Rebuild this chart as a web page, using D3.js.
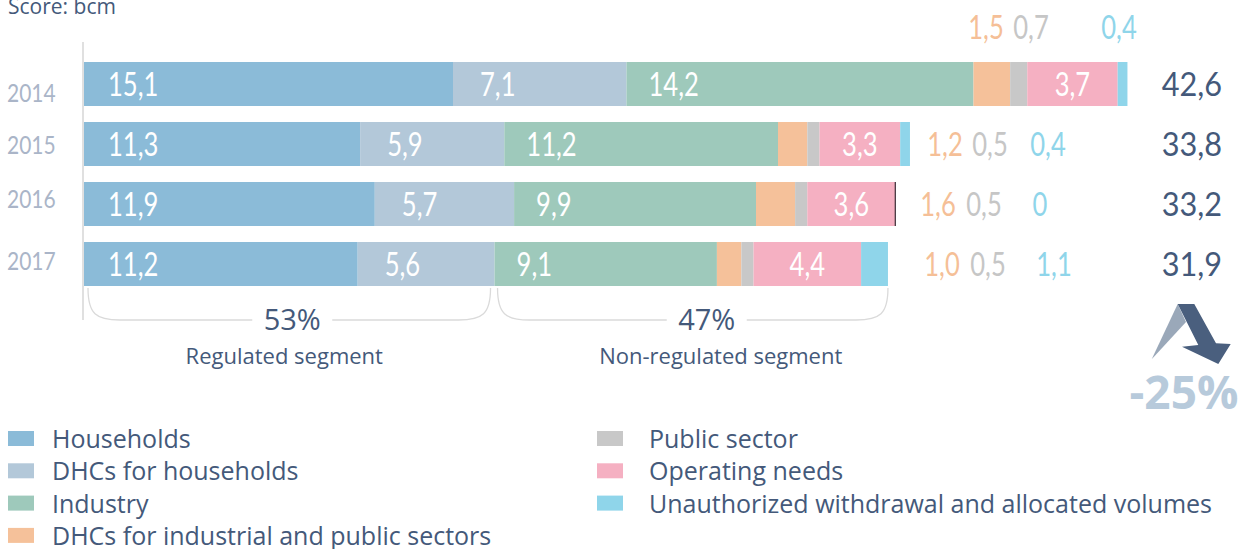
<!DOCTYPE html>
<html>
<head>
<meta charset="utf-8">
<script src="https://cdn.jsdelivr.net/npm/d3@7"></script>
<style>
  body { margin: 0; background: #fff; }
  svg { display: block; }
</style>
</head>
<body>
<div id="chart"></div>
<script>
// data, bcm
var years = ["2014", "2015", "2016", "2017"];
var keys = ["households", "dhcHouseholds", "industry", "dhcIndustrial", "publicSector", "operating", "unauthorized"];
var legendNames = ["Households", "DHCs for households", "Industry", "DHCs for industrial and public sectors",
                   "Public sector", "Operating needs", "Unauthorized withdrawal and allocated volumes"];
var colors = ["#8bbbd8", "#b3c8d9", "#9ec9bb", "#f5c19a", "#c8c8c8", "#f5b0c2", "#8fd5ea"];

var households    = [15.1, 11.3, 11.9, 11.2];
var dhcHouseholds = [7.1, 5.9, 5.7, 5.6];
var industry      = [14.2, 11.2, 9.9, 9.1];
var dhcIndustrial = [1.5, 1.2, 1.6, 1.0];
var publicSector  = [0.7, 0.5, 0.5, 0.5];
var operating     = [3.7, 3.3, 3.6, 4.4];
var unauthorized  = [0.4, 0.4, 0, 1.1];
var totals        = ["42,6", "33,8", "33,2", "31,9"];

var segments = [{label: "Regulated segment", share: "53%"},
                {label: "Non-regulated segment", share: "47%"}];
var change = "-25%";

var rows = years.map(function (y, i) {
    return {year: y, households: households[i], dhcHouseholds: dhcHouseholds[i], industry: industry[i],
            dhcIndustrial: dhcIndustrial[i], publicSector: publicSector[i], operating: operating[i],
            unauthorized: unauthorized[i], total: totals[i]};
});

var fmt = function (v) { return v === 0 ? "0" : v.toFixed(1).replace(".", ","); };

var navy = "#44597a";
var numFont = "Lato, 'DejaVu Sans Condensed', sans-serif";
var textFont = "'Open Sans', 'Noto Sans', sans-serif";

var svg = d3.select("#chart").append("svg")
    .attr("width", 1257)
    .attr("height", 549);

var x = d3.scaleLinear().domain([0, 42.6]).range([84, 1125]);
var y = d3.scaleBand().domain(years).range([54, 294]).paddingInner(16 / 60).paddingOuter(8 / 60);

var stack = d3.stack().keys(keys)(rows);

function numText(sel, size, color, weight) {
    return sel.style("font-family", numFont).style("font-weight", weight || 400)
        .style("font-size", size + "px").style("fill", color);
}

// the original numbers use a narrow face, so squeeze Lato a bit
function squeeze(sel, k) {
    sel.each(function () {
        var t = d3.select(this);
        var xx = +t.attr("x"), yy = +t.attr("y");
        t.attr("x", 0).attr("y", 0)
            .attr("transform", "translate(" + xx + "," + yy + ") scale(" + k + ",1)");
    });
    return sel;
}

// title
svg.append("text")
    .attr("x", 8).attr("y", 14)
    .style("font-family", textFont).style("font-size", "21px").style("fill", navy)
    .text("Score: bcm");

// axis line
svg.append("line")
    .attr("x1", 83).attr("x2", 83).attr("y1", 42).attr("y2", 320)
    .style("stroke", "#d6d6d6").style("stroke-width", 1.5);

// bars
var layers = svg.selectAll("g.layer")
    .data(stack)
    .enter()
    .append("g")
    .attr("class", "layer")
    .style("fill", function (d, i) { return colors[i]; });

layers.selectAll("rect")
    .data(function (d) { return d; })
    .enter()
    .append("rect")
    .attr("x", function (d) { return x(d[0]); })
    .attr("y", function (d) { return y(d.data.year); })
    .attr("width", function (d) { return x(d[1]) - x(d[0]); })
    .attr("height", y.bandwidth());

// zero-width unauthorized (2016) shows as a thin dark edge
stack[6].forEach(function (d) {
    if (d[1] - d[0] === 0) {
        svg.append("line")
            .attr("x1", x(d[0])).attr("x2", x(d[0]))
            .attr("y1", y(d.data.year)).attr("y2", y(d.data.year) + y.bandwidth())
            .style("stroke", "#3a2b35").style("stroke-width", 1.2);
    }
});

// labels inside bars
var insideOffset = {households: 24, dhcHouseholds: 27, industry: 22};
stack.forEach(function (layer) {
    var key = layer.key;
    if (insideOffset[key] === undefined && key !== "operating") return;
    var t = numText(svg.selectAll(null)
        .data(layer)
        .enter()
        .append("text")
        .attr("x", function (d) {
            if (key === "operating") return (x(d[0]) + x(d[1])) / 2;
            return x(d[0]) + insideOffset[key];
        })
        .attr("y", function (d) { return y(d.data.year) + y.bandwidth() / 2; })
        .attr("dy", "0.36em")
        .attr("text-anchor", key === "operating" ? "middle" : "start"), 32, "#fff")
        .text(function (d) { return fmt(d[1] - d[0]); });
    squeeze(t, 0.8);
});

// small values outside the bars
var outKeys = ["dhcIndustrial", "publicSector", "unauthorized"];
var outColors = ["#f5bf97", "#c6c6c6", "#8fd5ea"];
// label centres per row: 2014 sits above its bar, the others right of the bar
var outPos = [[986, 1031, 1119], [945, 990, 1048], [938, 984, 1040], [942, 988, 1054]];
rows.forEach(function (r, i) {
    outKeys.forEach(function (k, j) {
        var t = numText(svg.append("text")
            .attr("x", outPos[i][j])
            .attr("y", i === 0 ? 27 : y(r.year) + y.bandwidth() / 2)
            .attr("dy", "0.36em")
            .attr("text-anchor", "middle"), 32, outColors[j])
            .text(fmt(r[k]));
        squeeze(t, 0.8);
    });
});

// year labels
var yearShift = [9, 1, -5, -3];
var yl = numText(svg.selectAll("text.year")
    .data(years)
    .enter()
    .append("text")
    .attr("class", "year")
    .attr("x", 7)
    .attr("y", function (d, i) { return y(d) + y.bandwidth() / 2 + yearShift[i]; })
    .attr("dy", "0.36em"), 25, "#aab5c8")
    .text(function (d) { return d; });
squeeze(yl, 0.84);

// totals
var tl = numText(svg.selectAll("text.total")
    .data(rows)
    .enter()
    .append("text")
    .attr("class", "total")
    .attr("x", 1222)
    .attr("y", function (d) { return y(d.year) + y.bandwidth() / 2; })
    .attr("dy", "0.36em")
    .attr("text-anchor", "end"), 33, navy)
    .text(function (d) { return d.total; });
squeeze(tl, 0.93);

// segment brackets, spanning the last year's bar
var last = stack.map(function (l) { return l[3]; });
var spans = [[x(last[0][0]) + 4, x(last[1][1]) - 4], [x(last[2][0]) + 3, x(last[6][1])]];
var brTop = 288, brBottom = 320, gap = 40;
spans.forEach(function (s, i) {
    var mid = (s[0] + s[1]) / 2;
    var shift = i === 0 ? 3 : 14;
    var p = d3.path();
    p.moveTo(s[0], brTop);
    p.bezierCurveTo(s[0], brBottom - 6, s[0] + 8, brBottom, s[0] + 32, brBottom);
    p.lineTo(mid + shift - gap, brBottom);
    p.moveTo(mid + shift + gap, brBottom);
    p.lineTo(s[1] - 32, brBottom);
    p.bezierCurveTo(s[1] - 8, brBottom, s[1], brBottom - 6, s[1], brTop);
    svg.append("path")
        .attr("d", p.toString())
        .style("fill", "none").style("stroke", "#dadada").style("stroke-width", 1.3);

    svg.append("text")
        .attr("x", mid + shift).attr("y", brBottom).attr("dy", "0.36em")
        .attr("text-anchor", "middle")
        .style("font-family", textFont).style("font-size", "29px").style("fill", navy)
        .text(segments[i].share);

    svg.append("text")
        .attr("x", mid + (i === 0 ? -5 : 28)).attr("y", 356).attr("dy", "0.36em")
        .attr("text-anchor", "middle")
        .style("font-family", textFont).style("font-size", "22px").style("fill", navy)
        .text(segments[i].label);
});

// change arrow
svg.append("polygon")
    .attr("points", "1151.7,359.3 1177.7,304 1186,322")
    .style("fill", "#9aa8b9");
svg.append("polygon")
    .attr("points", "1177.7,304 1194.3,304 1216,343.3 1230.7,344 1218.3,364 1182,346.7 1198.3,345")
    .style("fill", "#4a5f7e");
svg.append("text")
    .attr("x", 1184).attr("y", 392).attr("dy", "0.36em")
    .attr("text-anchor", "middle")
    .style("font-family", textFont).style("font-size", "46px").style("font-weight", "bold")
    .style("fill", "#b7cadb")
    .text(change);

// legend
var legend = svg.selectAll("g.legend")
    .data(legendNames)
    .enter()
    .append("g")
    .attr("class", "legend")
    .attr("transform", function (d, i) {
        var col = i < 4 ? 0 : 1;
        var row = i < 4 ? i : i - 4;
        return "translate(" + (col === 0 ? 8 : 597) + "," + (439 + row * 32.3) + ")";
    });

legend.append("rect")
    .attr("x", 0).attr("y", -8).attr("width", 26).attr("height", 15)
    .style("fill", function (d, i) { return colors[i]; });

legend.append("text")
    .attr("x", function (d, i) { return i < 4 ? 44 : 52; })
    .attr("y", 0).attr("dy", "0.36em")
    .style("font-family", textFont).style("font-size", "25px").style("fill", navy)
    .text(function (d) { return d; });
</script>
</body>
</html>
